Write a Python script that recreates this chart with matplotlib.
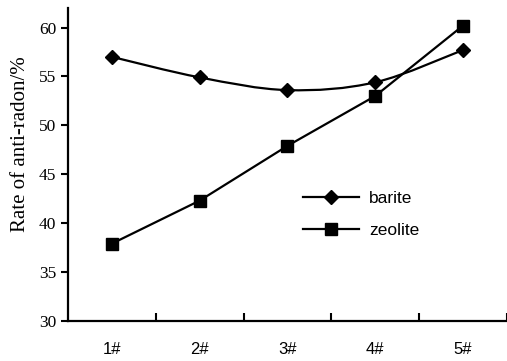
import numpy as np
from matplotlib import pyplot as plt
from matplotlib.path import Path
from matplotlib.patches import PathPatch

samples = ['1#', '2#', '3#', '4#', '5#']
barite = [57.0, 54.9, 53.6, 54.4, 57.7]
zeolite = [37.9, 42.3, 47.9, 53.0, 60.2]


def smooth_path(xs, ys):
    # Catmull-Rom through the points, written as cubic Bezier segments
    pts = np.column_stack([xs, ys]).astype(float)
    ext = np.vstack([pts[0], pts, pts[-1]])
    verts = [pts[0]]
    codes = [Path.MOVETO]
    for i in range(1, len(ext) - 2):
        p0, p1, p2, p3 = ext[i - 1], ext[i], ext[i + 1], ext[i + 2]
        verts += [p1 + (p2 - p0) / 6, p2 - (p3 - p1) / 6, p2]
        codes += [Path.CURVE4] * 3
    return Path(verts, codes)


fig = plt.figure(figsize=(5.07, 3.61), dpi=100)
ax = fig.add_axes([0.134, 0.111, 0.866, 0.867])

lw = 1.6
x = np.arange(len(samples))
ax.add_patch(PathPatch(smooth_path(x, barite), fill=False, lw=lw, color='black'))
ax.plot(x, barite, ls='none', marker='D', ms=7, color='black')
ax.plot(x, zeolite, lw=lw, marker='s', ms=8.5, color='black')

# legend handles
h1, = ax.plot([], [], lw=lw, marker='D', ms=7, color='black', label='barite')
h2, = ax.plot([], [], lw=lw, marker='s', ms=8.5, color='black', label='zeolite')
leg = ax.legend(handles=[h1, h2], loc='center left', bbox_to_anchor=(0.5, 0.34),
                frameon=False, handlelength=3.2, handletextpad=0.6, labelspacing=0.95,
                prop={'family': 'Liberation Sans', 'size': 12.5})

ax.set_xlim(-0.5, 4.5)
ax.set_ylim(30, 62)
ax.set_yticks(range(30, 61, 5))
ax.set_xticks(x)
ax.set_xticklabels(samples, family='Liberation Sans', fontsize=12)
ax.set_xticks(np.arange(0.5, 4.6, 1), minor=True)
ax.tick_params(axis='x', which='major', length=0, pad=15)
ax.tick_params(axis='x', which='minor', direction='in', length=6, width=1.5)
ax.tick_params(axis='y', direction='out', length=5, width=1.5, labelsize=12.5)
for lab in ax.get_yticklabels():
    lab.set_family('Liberation Serif')

ax.spines['top'].set_visible(False)
ax.spines['right'].set_visible(False)
ax.spines['left'].set_linewidth(1.6)
ax.spines['bottom'].set_linewidth(1.6)

ax.set_ylabel('Rate of anti-radon/%', family='Liberation Serif', fontsize=15)
ax.yaxis.set_label_coords(-0.087, 0.565)

fig.savefig('out.png', dpi=100)
